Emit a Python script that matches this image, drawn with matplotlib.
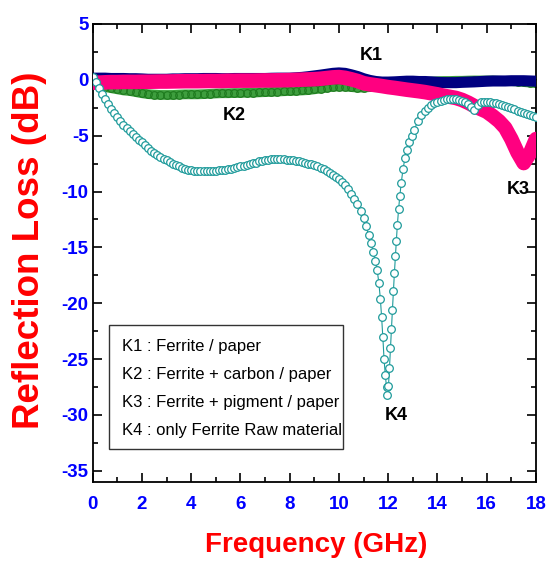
import numpy as np
import matplotlib
matplotlib.use("Agg")
import matplotlib.pyplot as plt
from matplotlib.patches import Rectangle
from matplotlib.ticker import MultipleLocator

plt.rcParams['axes.unicode_minus'] = False

# ---------------- data ----------------
freq = np.round(np.arange(0, 18.001, 0.25), 2)

k1_vals = [0.15, 0.15, 0.15, 0.12, 0.12, 0.12, 0.10, 0.10, 0.08, 0.05, 0.05, 0.05, 0.05,
           0.08, 0.08, 0.10, 0.10, 0.10, 0.12, 0.12, 0.12, 0.10, 0.10, 0.12, 0.12, 0.12,
           0.12, 0.12, 0.12, 0.14, 0.15, 0.15, 0.15, 0.18, 0.22, 0.28, 0.35, 0.42, 0.50,
           0.58, 0.62, 0.58, 0.45, 0.30, 0.10, -0.05, -0.15, -0.20, -0.20, -0.18, -0.15,
           -0.12, -0.12, -0.15, -0.15, -0.18, -0.22, -0.25, -0.25, -0.25, -0.22, -0.20,
           -0.18, -0.15, -0.12, -0.10, -0.10, -0.10, -0.08, -0.08, -0.08, -0.10, -0.12]

k2_vals = [-0.30, -0.50, -0.65, -0.75, -0.85, -0.95, -1.00, -1.10, -1.20, -1.28, -1.32,
           -1.35, -1.35, -1.35, -1.32, -1.30, -1.30, -1.30, -1.28, -1.25, -1.22, -1.20,
           -1.20, -1.18, -1.18, -1.15, -1.15, -1.12, -1.10, -1.08, -1.05, -1.02, -1.00,
           -0.98, -0.95, -0.92, -0.85, -0.78, -0.70, -0.62, -0.60, -0.60, -0.65, -0.70,
           -0.70, -0.65, -0.60, -0.55, -0.50, -0.45, -0.40, -0.35, -0.30, -0.25, -0.20,
           -0.15, -0.12, -0.10, -0.10, -0.08, -0.08, -0.06, -0.05, -0.05, -0.05, -0.05,
           -0.08, -0.10, -0.12, -0.15, -0.20, -0.25, -0.30]

k3_vals = [-0.25, -0.25, -0.22, -0.20, -0.20, -0.18, -0.18, -0.18, -0.17, -0.17, -0.16,
           -0.15, -0.15, -0.14, -0.13, -0.12, -0.12, -0.12, -0.11, -0.10, -0.10, -0.10,
           -0.08, -0.08, -0.07, -0.07, -0.07, -0.06, -0.05, -0.05, -0.04, -0.03, -0.02,
           0.00, 0.02, 0.04, 0.06, 0.10, 0.16, 0.22, 0.25, 0.18, 0.05, -0.10, -0.30,
           -0.40, -0.48, -0.56, -0.65, -0.72, -0.80, -0.88, -0.95, -1.02, -1.10, -1.20,
           -1.30, -1.42, -1.52, -1.62, -1.80, -2.05, -2.35, -2.60, -2.85, -3.25, -3.70,
           -4.30, -5.30, -6.50, -7.45, -6.60, -5.30]

k4_freq = [0.0, 0.125, 0.25, 0.375, 0.5, 0.625, 0.75, 0.875, 1.0, 1.125, 1.25, 1.375,
           1.5, 1.625, 1.75, 1.875, 2.0, 2.125, 2.25, 2.375, 2.5, 2.625, 2.75, 2.875,
           3.0, 3.125, 3.25, 3.375, 3.5, 3.625, 3.75, 3.875, 4.0, 4.125, 4.25, 4.375,
           4.5, 4.625, 4.75, 4.875, 5.0, 5.125, 5.25, 5.375, 5.5, 5.625, 5.75, 5.875,
           6.0, 6.125, 6.25, 6.375, 6.5, 6.625, 6.75, 6.875, 7.0, 7.125, 7.25, 7.375,
           7.5, 7.625, 7.75, 7.875, 8.0, 8.125, 8.25, 8.375, 8.5, 8.625, 8.75, 8.875,
           9.0, 9.125, 9.25, 9.375, 9.5, 9.625, 9.75, 9.875, 10.0, 10.125, 10.25, 10.375,
           10.5, 10.625, 10.75, 10.875, 11.0, 11.1, 11.2, 11.3, 11.4, 11.48, 11.55,
           11.62, 11.68, 11.73, 11.78, 11.83, 11.88, 11.93, 11.97, 12.01, 12.05, 12.09,
           12.13, 12.17, 12.21, 12.25, 12.29, 12.33, 12.37, 12.42, 12.47, 12.53, 12.6,
           12.68, 12.76, 12.85, 12.95, 13.05, 13.2, 13.35, 13.5, 13.625, 13.75, 13.875,
           14.0, 14.125, 14.25, 14.375, 14.5, 14.625, 14.75, 14.875, 15.0, 15.125, 15.25,
           15.375, 15.5, 15.625, 15.75, 15.875, 16.0, 16.125, 16.25, 16.375, 16.5,
           16.625, 16.75, 16.875, 17.0, 17.125, 17.25, 17.375, 17.5, 17.625, 17.75,
           17.875, 18.0]
k4_vals = [0.30, -0.20, -0.70, -1.25, -1.75, -2.20, -2.60, -2.95, -3.30, -3.65, -4.00,
           -4.30, -4.60, -4.85, -5.10, -5.35, -5.60, -5.85, -6.10, -6.35, -6.55, -6.75,
           -6.90, -7.05, -7.20, -7.35, -7.50, -7.65, -7.75, -7.85, -7.95, -8.05, -8.10,
           -8.15, -8.20, -8.20, -8.20, -8.20, -8.20, -8.15, -8.15, -8.10, -8.10, -8.05,
           -8.00, -7.95, -7.90, -7.80, -7.75, -7.70, -7.60, -7.50, -7.45, -7.40, -7.30,
           -7.25, -7.20, -7.15, -7.10, -7.10, -7.10, -7.10, -7.10, -7.15, -7.15, -7.20,
           -7.25, -7.30, -7.35, -7.40, -7.50, -7.55, -7.65, -7.75, -7.85, -8.00, -8.15,
           -8.30, -8.50, -8.70, -8.90, -9.15, -9.45, -9.80, -10.20, -10.65, -11.15,
           -11.75, -12.40, -13.10, -13.90, -14.60, -15.40, -16.20, -17.00, -18.20,
           -19.60, -21.20, -23.00, -25.00, -26.40, -27.50, -28.20, -27.40, -25.80,
           -24.00, -22.30, -20.60, -18.90, -17.30, -15.80, -14.40, -13.00, -11.60,
           -10.40, -9.20, -8.00, -7.00, -6.30, -5.60, -5.00, -4.50, -3.70, -3.15, -2.75,
           -2.50, -2.25, -2.10, -1.95, -1.85, -1.80, -1.75, -1.75, -1.75, -1.75, -1.80,
           -1.85, -1.95, -2.15, -2.45, -2.70, -2.25, -2.00, -1.95, -1.95, -2.00, -2.05,
           -2.10, -2.20, -2.25, -2.35, -2.45, -2.55, -2.65, -2.75, -2.85, -2.95, -3.05,
           -3.15, -3.25, -3.35]

x_ticks = [0, 2, 4, 6, 8, 10, 12, 14, 16, 18]
y_ticks = [5, 0, -5, -10, -15, -20, -25, -30, -35]

curve_labels = ["K1", "K2", "K3", "K4"]
legend_lines = ["K1 : Ferrite / paper",
                "K2 : Ferrite + carbon / paper",
                "K3 : Ferrite + pigment / paper",
                "K4 : only Ferrite Raw material"]

# ---------------- figure ----------------
W, H = 553, 563
fig = plt.figure(figsize=(W / 100, H / 100), dpi=100)
L, R, T, B = 92.7, 536.0, 24.0, 482.0
ax = fig.add_axes([L / W, 1 - B / H, (R - L) / W, (B - T) / H])

arial = ['Liberation Sans', 'DejaVu Sans']

# K2 green band (bottom)
ax.plot(freq, k2_vals, color='#3E9E3E', lw=7, solid_capstyle='round', zorder=2)
ax.plot(freq, k2_vals, ls='none', marker='o', ms=5.5, mfc='none', mec='#1E7A1E',
        mew=0.8, zorder=2.1)
# K1 navy band
ax.plot(freq, k1_vals, color='#000080', lw=8, solid_capstyle='round', zorder=3)
# K3 pink band
ax.plot(freq, k3_vals, color='#FF0080', lw=10.5, solid_capstyle='round', zorder=4)
# K4 teal open circles
ax.plot(k4_freq, k4_vals, color='#1F9B9B', lw=0.8, marker='o', ms=5.5, mfc='white',
        mec='#1F9B9B', mew=0.9, zorder=5)

ax.set_xlim(0, 18)
ax.set_ylim(-36, 5)
ax.set_xticks(x_ticks)
ax.set_yticks(y_ticks)
ax.set_xticklabels([str(v) for v in x_ticks])
ax.set_yticklabels([str(v) for v in y_ticks])
ax.xaxis.set_minor_locator(MultipleLocator(1))
ax.yaxis.set_minor_locator(MultipleLocator(2.5))
ax.tick_params(which='both', direction='in', top=True, right=True, width=1.2,
               color='black')
ax.tick_params(which='major', length=6.5)
ax.tick_params(which='minor', length=3.5)
ax.tick_params(axis='x', which='major', pad=10)
ax.tick_params(axis='y', which='major', pad=3)
for lab in ax.get_xticklabels() + ax.get_yticklabels():
    lab.set_fontfamily(arial)
    lab.set_fontweight('bold')
    lab.set_fontsize(13.5)
    lab.set_color('#0000FF')
for sp in ax.spines.values():
    sp.set_linewidth(1.3)

# axis titles
fig.text(30 / W, 1 - 250 / H, "Reflection Loss (dB)", rotation=90, ha='center',
         va='center', color='#FF0000', fontsize=26.5, fontweight='bold',
         family=arial)
fig.text(316 / W, 1 - 545 / H, "Frequency (GHz)", ha='center', va='center',
         color='#FF0000', fontsize=20, fontweight='bold', family=arial)

# curve labels (pixel positions converted to axes fraction)
label_px = [(371, 55), (234, 115), (518, 190), (396.5, 415.5)]
for txt, (px, py) in zip(curve_labels, label_px):
    ax.text((px - L) / (R - L), (B - py) / (B - T), txt, transform=ax.transAxes,
            ha='center', va='center', fontsize=13, fontweight='bold', family=arial,
            color='black', zorder=6)

# legend box
bx0, bx1, by0, by1 = 109.3, 343.0, 325.0, 449.0
fig.patches.append(Rectangle((bx0 / W, 1 - by1 / H), (bx1 - bx0) / W, (by1 - by0) / H,
                             transform=fig.transFigure, fill=True, facecolor='white',
                             edgecolor='#333333', lw=1.0, zorder=10))
for txt, py in zip(legend_lines, [347, 375, 402, 430]):
    fig.text(121.5 / W, 1 - py / H, txt, ha='left', va='center', fontsize=12,
             family=arial, color='black', zorder=11)

fig.savefig("out.png", dpi=100)
